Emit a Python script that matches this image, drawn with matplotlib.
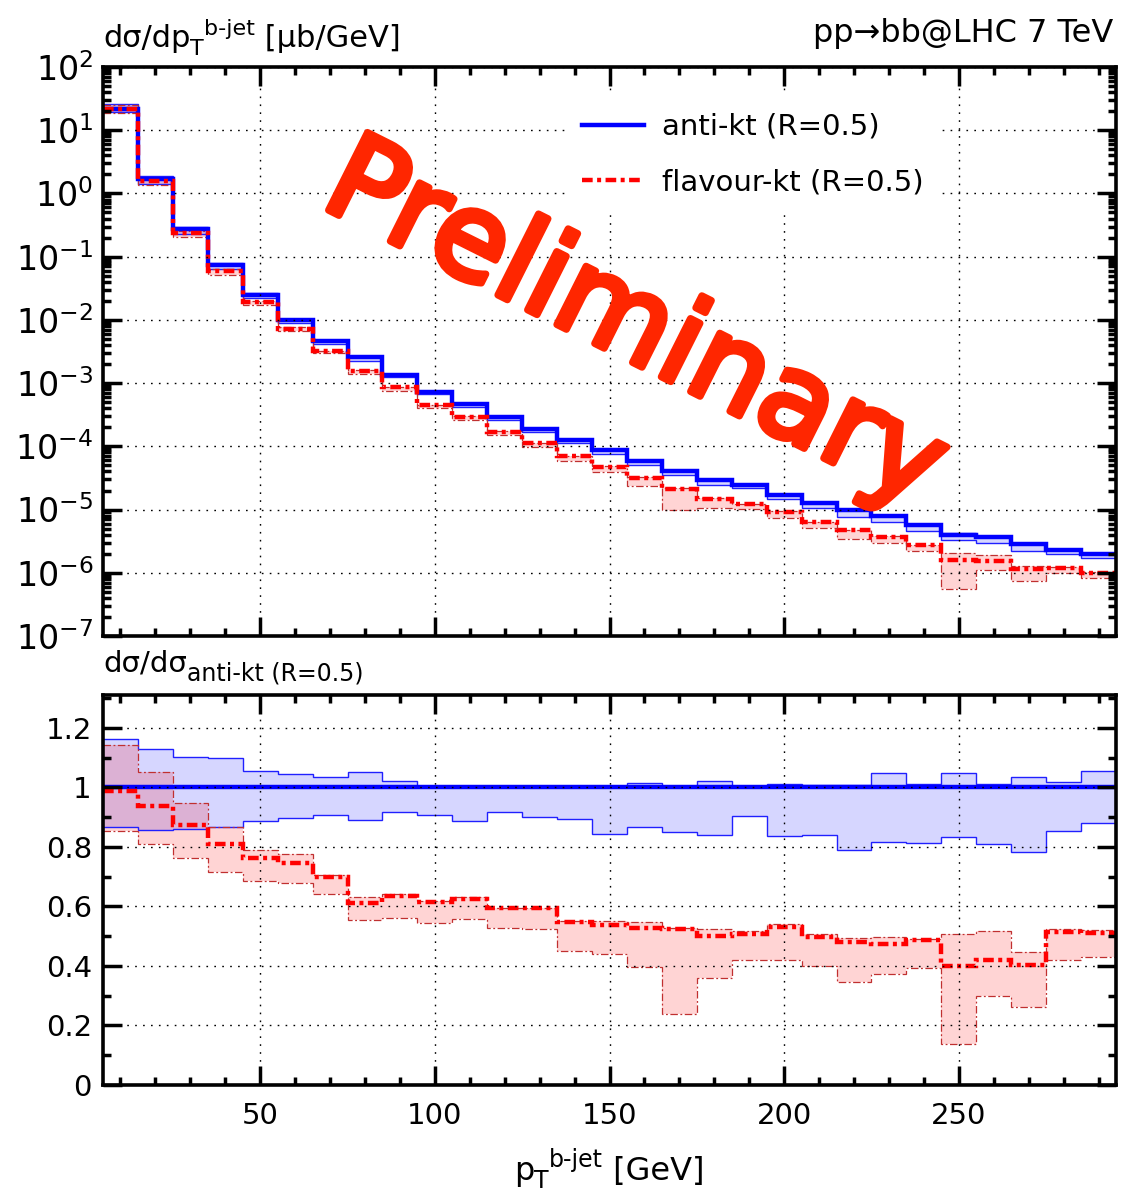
import numpy as np
import matplotlib
matplotlib.use('Agg')
import matplotlib.pyplot as plt
from matplotlib.lines import Line2D
from matplotlib import patheffects as pe
from matplotlib.ticker import MultipleLocator, FixedLocator, FuncFormatter, LogLocator, NullFormatter

plt.rcParams['font.family'] = ['DejaVu Sans']
plt.rcParams['mathtext.fontset'] = 'dejavusans'
plt.rcParams['mathtext.default'] = 'regular'

# bin edges in pT (GeV)
pt_edges = [5, 15, 25, 35, 45, 55, 65, 75, 85, 95, 105, 115, 125, 135, 145,
            155, 165, 175, 185, 195, 205, 215, 225, 235, 245, 255, 265, 275, 285, 295]

# anti-kt central cross section, mub/GeV
xsec_antikt = [22, 1.67, 0.27, 0.0726, 0.0252, 0.0098, 0.0046, 0.00256, 0.00135, 7.3e-4,
               4.74e-4, 2.88e-4, 1.88e-4, 1.28e-4, 8.9e-5, 5.9e-5, 4.1e-5, 2.95e-5, 2.41e-5, 1.73e-5,
               1.27e-5, 9.7e-6, 7.8e-6, 5.6e-6, 4.0e-6, 3.7e-6, 2.83e-6, 2.33e-6, 1.95e-6]

# ratios to anti-kt central
antikt_hi = [1.163, 1.127, 1.101, 1.097, 1.056, 1.043, 1.034, 1.052, 1.020, 1.006,
             1.003, 1.0, 1.0, 1.0, 1.003, 1.016, 1.006, 1.020, 1.006, 1.010,
             1.008, 1.007, 1.047, 1.010, 1.047, 1.010, 1.033, 1.017, 1.056]
antikt_lo = [0.868, 0.855, 0.859, 0.868, 0.886, 0.896, 0.907, 0.890, 0.918, 0.908,
             0.886, 0.918, 0.899, 0.893, 0.844, 0.868, 0.850, 0.841, 0.903, 0.836,
             0.839, 0.791, 0.817, 0.813, 0.832, 0.809, 0.781, 0.854, 0.881]
flav_c = [0.987, 0.936, 0.872, 0.809, 0.762, 0.745, 0.697, 0.613, 0.636, 0.614,
          0.625, 0.594, 0.594, 0.549, 0.538, 0.529, 0.524, 0.501, 0.507, 0.532,
          0.496, 0.481, 0.474, 0.486, 0.401, 0.419, 0.403, 0.513, 0.510]
flav_hi = [1.141, 1.052, 0.947, 0.868, 0.790, 0.777, 0.704, 0.633, 0.642, 0.618,
           0.632, 0.596, 0.594, 0.551, 0.551, 0.549, 0.526, 0.524, 0.517, 0.540,
           0.506, 0.495, 0.498, 0.490, 0.507, 0.517, 0.446, 0.524, 0.521]
flav_lo = [0.854, 0.809, 0.762, 0.717, 0.684, 0.678, 0.642, 0.554, 0.560, 0.545,
           0.557, 0.526, 0.523, 0.450, 0.440, 0.396, 0.239, 0.360, 0.420, 0.420,
           0.401, 0.347, 0.373, 0.392, 0.137, 0.299, 0.262, 0.419, 0.431]

edges = np.array(pt_edges)
ak = np.array(xsec_antikt)

W, H = 1146, 1197
fig = plt.figure(figsize=(W / 100, H / 100), dpi=100)
ax1 = fig.add_axes([103 / W, 1 - 636 / H, 1013 / W, 569 / H])
ax2 = fig.add_axes([103 / W, 1 - 1085 / H, 1013 / W, 390 / H])

red_dd = (0, (2.4, 1.0, 0.9, 1.0))
edge_dd = (0, (6, 2, 1.5, 2))


def draw(ax, c, bl, bh, rc, rl, rh):
    ax.stairs(bh, edges, baseline=bl, fill=True, color=(0, 0, 1, 0.16), lw=0, zorder=1)
    ax.stairs(rh, edges, baseline=rl, fill=True, color=(1, 0, 0, 0.17), lw=0, zorder=1.1)
    ax.stairs(bh, edges, baseline=None, color='#2020ff', lw=1.0, zorder=1.5)
    ax.stairs(bl, edges, baseline=None, color='#2020ff', lw=1.0, zorder=1.5)
    ax.stairs(rh, edges, baseline=None, color='#c03030', lw=0.9, ls=edge_dd, zorder=1.6)
    ax.stairs(rl, edges, baseline=None, color='#c03030', lw=0.9, ls=edge_dd, zorder=1.6)
    ax.stairs(c, edges, baseline=None, color='blue', lw=3.2, zorder=2)
    ax.stairs(rc, edges, baseline=None, color='red', lw=3.2, ls=red_dd, zorder=2.1)


draw(ax1, ak, ak * np.array(antikt_lo), ak * np.array(antikt_hi),
     ak * np.array(flav_c), ak * np.array(flav_lo), ak * np.array(flav_hi))
draw(ax2, ak / ak, np.array(antikt_lo), np.array(antikt_hi),
     np.array(flav_c), np.array(flav_lo), np.array(flav_hi))

ax1.set_yscale('log')
ax1.set_ylim(1e-7, 1e2)
ax1.yaxis.set_major_locator(LogLocator(base=10, numticks=20))
ax1.yaxis.set_minor_locator(LogLocator(base=10, subs=np.arange(2, 10), numticks=20))
ax1.yaxis.set_minor_formatter(NullFormatter())
ax2.set_ylim(0, 1.31)
ax2.yaxis.set_major_locator(FixedLocator([0, 0.2, 0.4, 0.6, 0.8, 1.0, 1.2]))
ax2.yaxis.set_major_formatter(FuncFormatter(lambda v, p: '%g' % round(v, 2)))
ax2.yaxis.set_minor_locator(MultipleLocator(0.1))

for ax in (ax1, ax2):
    ax.set_xlim(5, 295)
    ax.xaxis.set_major_locator(FixedLocator([50, 100, 150, 200, 250]))
    ax.xaxis.set_minor_locator(MultipleLocator(10))
    ax.set_axisbelow(False)
    ax.grid(True, which='major', color='black', lw=1.0, ls=(0, (1.2, 4.5)))
    ax.tick_params(which='both', direction='in', top=True, right=True, width=2.5,
                   labelsize=21, pad=8)
    ax.tick_params(which='major', length=14)
    ax.tick_params(which='minor', length=6)
    for s in ax.spines.values():
        s.set_linewidth(2.6)
ax1.tick_params(labelbottom=False)
ax1.tick_params(axis='y', labelsize=24, pad=7)
ax2.tick_params(axis='x', pad=12)

handles = [Line2D([], [], color='blue', lw=3.2),
           Line2D([], [], color='red', lw=3.2, ls=red_dd)]
ax1.legend(handles, ['anti-kt (R=0.5)', 'flavour-kt (R=0.5)'], loc='upper left',
           bbox_to_anchor=(0.456, 0.95), fontsize=21, borderpad=0.6,
           handlelength=2.1, handletextpad=0.62, labelspacing=0.95,
           frameon=True, fancybox=False, framealpha=1, facecolor='white',
           edgecolor='none', borderaxespad=0)

renderer = fig.canvas.get_renderer()


def rich(x, y, pieces, ha='left'):
    # pieces: (text, fontsize, vertical shift in px); laid out one after another
    widths = []
    for txt, size, dy in pieces:
        t = fig.text(0, 0, txt, fontsize=size)
        widths.append(t.get_window_extent(renderer).width)
        t.remove()
    if ha == 'center':
        x = x - sum(widths) / 2
    elif ha == 'right':
        x = x - sum(widths)
    for (txt, size, dy), w in zip(pieces, widths):
        fig.text(x / W, 1 - (y - dy) / H, txt, fontsize=size, ha='left', va='baseline')
        x += w


rich(103, 47, [('dσ/dp', 22, 0), ('T', 16, -8), ('b-jet', 16, 12), (' [μb/GeV]', 22, 0)])
rich(1113, 42, [('pp→bb@LHC 7 TeV', 23, 0)], ha='right')
rich(103, 672, [('dσ/dσ', 21, 0), ('anti-kt (R=0.5)', 17, -8)])
rich(609, 1180, [('p', 23, 0), ('T', 17, -8), ('b-jet', 17, 13), (' [GeV]', 23, 0)], ha='center')

# watermark
fig.text(318 / W, 1 - 205 / H, 'Preliminary', fontsize=86, color='#ff2600',
         rotation=-26.6, rotation_mode='anchor', ha='left', va='baseline', zorder=10,
         path_effects=[pe.Stroke(linewidth=5, foreground='#ff2600',
                                 joinstyle='round', capstyle='round'), pe.Normal()])

fig.savefig('out.png', dpi=100)
